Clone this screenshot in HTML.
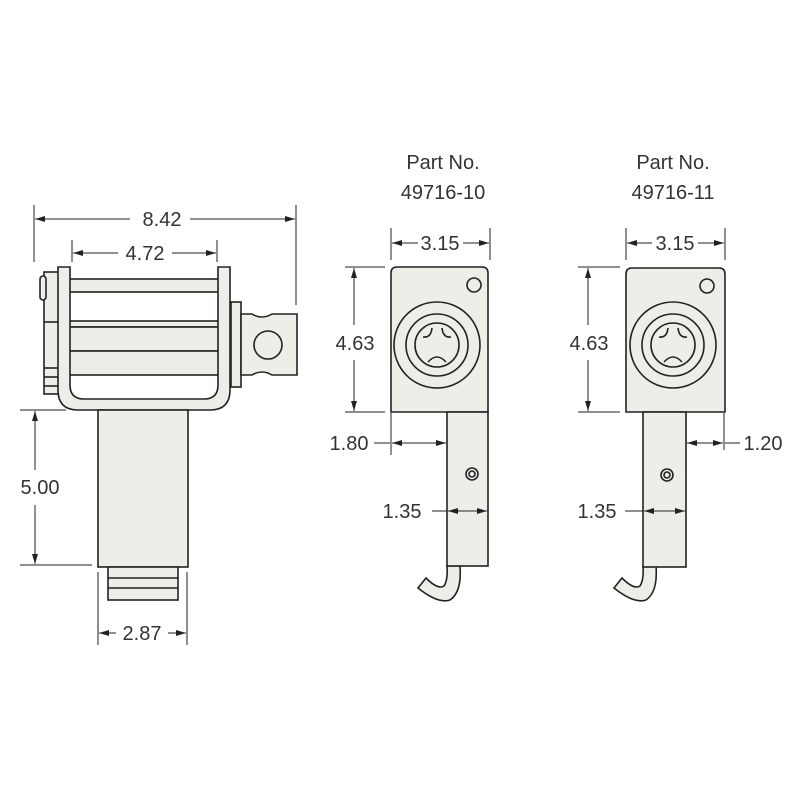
<!DOCTYPE html>
<html><head><meta charset="utf-8"><style>
html,body{margin:0;padding:0;background:#fff}
svg{display:block}
text{font-family:"Liberation Sans",sans-serif;fill:#333}
</style></head><body>
<svg width="800" height="800" viewBox="0 0 800 800" xmlns="http://www.w3.org/2000/svg">
<defs>
<marker id="a" viewBox="0 0 10 6" refX="10" refY="3" markerWidth="10" markerHeight="6" orient="auto-start-reverse" markerUnits="userSpaceOnUse"><path d="M0,0L10,3L0,6z" fill="#222"/></marker>
</defs>
<g stroke="#222" stroke-width="1" fill="none">
<line x1="34" y1="205" x2="34" y2="262"/><line x1="296" y1="205" x2="296" y2="305"/>
<line x1="35" y1="219" x2="130" y2="219" marker-start="url(#a)"/><line x1="190" y1="219" x2="295" y2="219" marker-end="url(#a)"/>
<line x1="72" y1="240" x2="72" y2="262"/><line x1="217" y1="240" x2="217" y2="262"/>
<line x1="73" y1="253" x2="118" y2="253" marker-start="url(#a)"/><line x1="172" y1="253" x2="216" y2="253" marker-end="url(#a)"/>
<line x1="20" y1="410" x2="66" y2="410"/><line x1="20" y1="565" x2="92" y2="565"/>
<line x1="35" y1="411" x2="35" y2="470" marker-start="url(#a)"/><line x1="35" y1="505" x2="35" y2="564" marker-end="url(#a)"/>
<line x1="98" y1="572" x2="98" y2="645"/><line x1="187" y1="572" x2="187" y2="645"/>
<line x1="99" y1="633" x2="116" y2="633" marker-start="url(#a)"/><line x1="168" y1="633" x2="186" y2="633" marker-end="url(#a)"/>
</g>
<g stroke="#222" stroke-width="1.6" fill="#eeede8">
<rect x="44" y="272" width="16" height="122"/>
<rect x="40" y="276" width="6" height="24" rx="3"/>
<line x1="44" y1="322" x2="60" y2="322"/><line x1="44" y1="368" x2="60" y2="368"/><line x1="44" y1="377" x2="60" y2="377"/><line x1="44" y1="386" x2="60" y2="386"/>
<rect x="231" y="302" width="10" height="85"/>
<path d="M241,314 L252,314 Q262,320 272,314 L297,314 L297,375 L272,375 Q262,369 252,375 L241,375 Z"/>
<circle cx="268" cy="345" r="14"/>
<rect x="68" y="279" width="152" height="13"/>
<rect x="68" y="321" width="152" height="6"/>
<rect x="68" y="327" width="152" height="24"/>
<rect x="68" y="351" width="152" height="24"/>
<path d="M58,267 L70,267 L70,385 Q70,399 84,399 L204,399 Q218,399 218,385 L218,267 L230,267 L230,390 Q230,410 210,410 L78,410 Q58,410 58,390 Z"/>
<rect x="98" y="410" width="90" height="157"/>
<rect x="108" y="567" width="70" height="33"/>
<line x1="108" y1="578" x2="178" y2="578"/><line x1="108" y1="588" x2="178" y2="588"/>
</g>
<text x="162" y="226" font-size="20" text-anchor="middle">8.42</text>
<text x="145" y="260" font-size="20" text-anchor="middle">4.72</text>
<text x="40" y="494" font-size="20" text-anchor="middle">5.00</text>
<text x="142" y="640" font-size="20" text-anchor="middle">2.87</text>

<text x="443" y="169" font-size="20" text-anchor="middle">Part No.</text>
<text x="443" y="199" font-size="20" text-anchor="middle">49716-10</text>
<text x="673" y="169" font-size="20" text-anchor="middle">Part No.</text>
<text x="673" y="199" font-size="20" text-anchor="middle">49716-11</text>

<g stroke="#222" stroke-width="1" fill="none">
<line x1="391" y1="228" x2="391" y2="260"/><line x1="490" y1="228" x2="490" y2="260"/>
<line x1="392" y1="243" x2="418" y2="243" marker-start="url(#a)"/><line x1="463" y1="243" x2="489" y2="243" marker-end="url(#a)"/>
<line x1="345" y1="267" x2="385" y2="267"/><line x1="345" y1="412" x2="385" y2="412"/>
<line x1="354" y1="268" x2="354" y2="325" marker-start="url(#a)"/><line x1="354" y1="360" x2="354" y2="411" marker-end="url(#a)"/>
<line x1="391" y1="413" x2="391" y2="455"/>
<line x1="374" y1="443" x2="390" y2="443"/><line x1="392" y1="443" x2="446" y2="443" marker-start="url(#a)" marker-end="url(#a)"/>
<line x1="432" y1="511" x2="447" y2="511"/>
</g>
<g stroke="#222" stroke-width="1.6" fill="#eeede8">
<path d="M447,566 L460,566 Q462,592 450,600 Q438,604 418,588 L426,578 Q438,590 444,586 Q448,580 447,566Z"/>
<path d="M391,412 L391,273 Q391,267 397,267 L482,267 Q488,267 488,273 L488,412 Z"/>
<rect x="447" y="412" width="41" height="154"/>
<circle cx="474" cy="285" r="7"/>
<circle cx="437" cy="345" r="43"/>
<circle cx="437" cy="345" r="31"/>
<circle cx="437" cy="345" r="22"/>
<path d="M423,337 Q431,338 432,328 M451,337 Q443,338 442,328 M428,362 Q437,352 446,362" fill="none"/>
<circle cx="472" cy="474" r="6"/><circle cx="472" cy="474" r="3"/>
</g>
<line x1="448" y1="511" x2="487" y2="511" stroke="#222" stroke-width="1" marker-start="url(#a)" marker-end="url(#a)"/>
<text x="440" y="250" font-size="20" text-anchor="middle">3.15</text>
<text x="355" y="350" font-size="20" text-anchor="middle">4.63</text>
<text x="349" y="450" font-size="20" text-anchor="middle">1.80</text>
<text x="402" y="518" font-size="20" text-anchor="middle">1.35</text>

<g stroke="#222" stroke-width="1" fill="none">
<line x1="626" y1="228" x2="626" y2="260"/><line x1="725" y1="228" x2="725" y2="260"/>
<line x1="627" y1="243" x2="652" y2="243" marker-start="url(#a)"/><line x1="698" y1="243" x2="724" y2="243" marker-end="url(#a)"/>
<line x1="578" y1="267" x2="620" y2="267"/><line x1="578" y1="412" x2="620" y2="412"/>
<line x1="588" y1="268" x2="588" y2="325" marker-start="url(#a)"/><line x1="588" y1="360" x2="588" y2="411" marker-end="url(#a)"/>
<line x1="724" y1="413" x2="724" y2="450"/>
<line x1="687" y1="443" x2="723" y2="443" marker-start="url(#a)" marker-end="url(#a)"/><line x1="725" y1="443" x2="740" y2="443"/>
<line x1="625" y1="511" x2="643" y2="511"/>
</g>
<g stroke="#222" stroke-width="1.6" fill="#eeede8">
<path d="M643,566 L656,566 Q658,592 646,600 Q634,604 614,588 L622,578 Q634,590 640,586 Q644,580 643,566Z"/>
<path d="M626,412 L626,274 Q626,268 632,268 L719,268 Q725,268 725,274 L725,412 Z"/>
<rect x="643" y="412" width="43" height="155"/>
<circle cx="707" cy="286" r="7"/>
<circle cx="673" cy="345" r="43"/>
<circle cx="673" cy="345" r="31"/>
<circle cx="673" cy="345" r="22"/>
<path d="M659,337 Q667,338 668,328 M687,337 Q679,338 678,328 M664,362 Q673,352 682,362" fill="none"/>
<circle cx="667" cy="475" r="6"/><circle cx="667" cy="475" r="3"/>
</g>
<line x1="644" y1="511" x2="685" y2="511" stroke="#222" stroke-width="1" marker-start="url(#a)" marker-end="url(#a)"/>
<text x="675" y="250" font-size="20" text-anchor="middle">3.15</text>
<text x="589" y="350" font-size="20" text-anchor="middle">4.63</text>
<text x="763" y="450" font-size="20" text-anchor="middle">1.20</text>
<text x="597" y="518" font-size="20" text-anchor="middle">1.35</text>
</svg>
</body></html>
